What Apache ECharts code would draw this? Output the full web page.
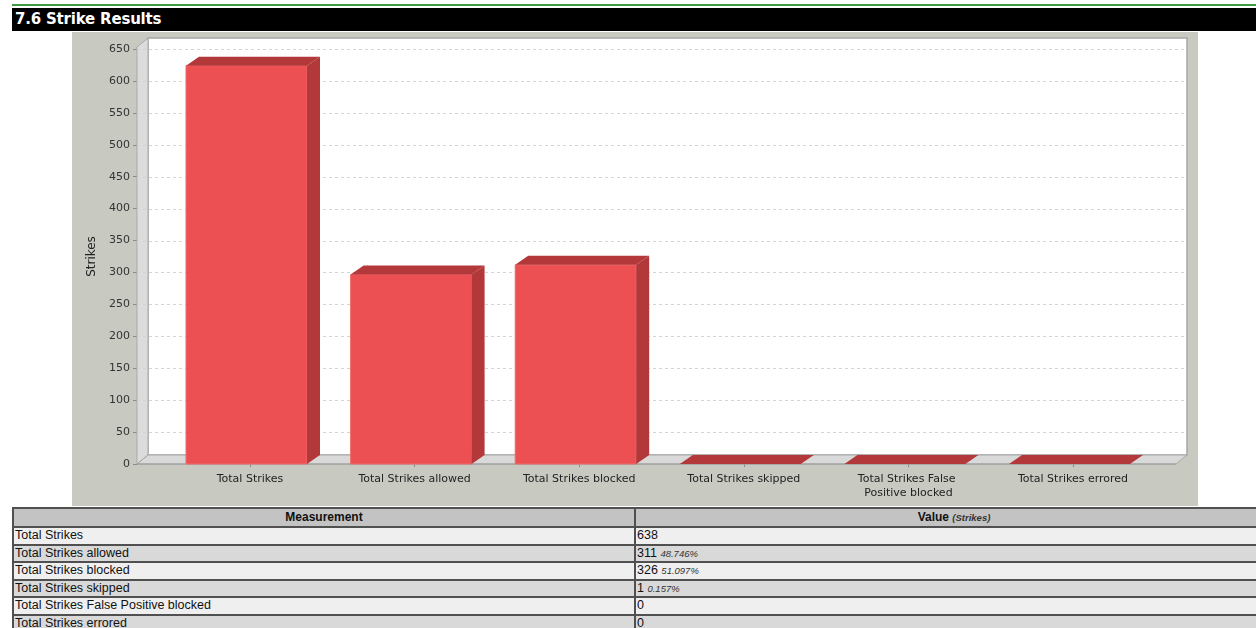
<!DOCTYPE html>
<html>
<head>
<meta charset="utf-8">
<title>7.6 Strike Results</title>
<script src="https://cdn.jsdelivr.net/npm/echarts@6/dist/echarts.min.js"></script>
<style>
  html, body { margin: 0; padding: 0; background: #ffffff; }
  body { width: 1256px; height: 628px; overflow: hidden; position: relative; }
  #rule { position: absolute; left: 12px; top: 4px; width: 1244px; height: 2px; background: #3f9a44; }
  #title {
    position: absolute; left: 12px; top: 8px; width: 1244px; height: 23px;
    background: #000000; color: #ffffff; font: bold 15px "DejaVu Sans", sans-serif;
    line-height: 23px; padding-left: 3px; box-sizing: border-box; letter-spacing: -0.2px;
  }
  #chart { position: absolute; left: 72px; top: 32px; width: 1126px; height: 474px; }
  #results {
    position: absolute; left: 12px; top: 507px; width: 1262px;
    border-collapse: collapse; font: 12.5px "Liberation Sans", Arial, sans-serif; color: #111;
  }
  #results th, #results td {
    border: 2px solid #505050; padding: 0 1px; height: 15.5px; line-height: 15.5px;
    text-align: left; box-sizing: content-box;
  }
  #results th { background: #c3c3c3; text-align: center; font-weight: bold; height: 17px; line-height: 17px; font-size: 12px; }
  #results td.name { width: 618px; }
  #results tr.light td { background: #efefef; }
  #results tr.dark td { background: #d9d9d9; }
  #results .unit, #results .pct { font-size: 9.5px; font-style: italic; color: #333; }
  #results .unit { font-weight: bold; }
</style>
</head>
<body>
<div id="rule"></div>
<div id="title">7.6 Strike Results</div>
<div id="chart"></div>
<table id="results"></table>
<script>
// Strike measurements
const categories = [
  'Total Strikes',
  'Total Strikes allowed',
  'Total Strikes blocked',
  'Total Strikes skipped',
  'Total Strikes False Positive blocked',
  'Total Strikes errored'
];
const strikes = [638, 311, 326, 1, 0, 0];
// rows that also show their share of the total
const showShare = [false, true, true, true, false, false];

// value axis range
const yMin = 0;
const yMax = 650;
const yStep = 50;

// pseudo-3D depth of the plot box and the bars
const DX = 11, DY = 9;
const BAR_DX = 13;
const INSET_L = 30.7;   // axis line sits left of the category band area
const INSET_R = 20.7;

const chart = echarts.init(document.getElementById('chart'), null, { renderer: 'canvas' });

function renderBox(params, api) {
  const cs = params.coordSys;
  const left = cs.x - INSET_L;
  const right = cs.x + cs.width + INSET_R;
  const y0 = api.coord([0, yMin])[1];
  const top = api.coord([0, yMax])[1] - 2;
  const edge = { stroke: '#a9a9a9', lineWidth: 1 };
  const children = [
    { type: 'rect', shape: { x: left + DX, y: top - DY, width: right - left, height: y0 - top },
      style: { fill: '#ffffff', stroke: '#a6a6a6', lineWidth: 1.5 } },
    { type: 'polygon', shape: { points: [[left, top], [left + DX, top - DY], [left + DX, y0 - DY], [left, y0]] },
      style: Object.assign({ fill: '#dcdcdc' }, edge) },
    { type: 'polygon', shape: { points: [[left, y0], [right, y0], [right + DX, y0 - DY], [left + DX, y0 - DY]] },
      style: Object.assign({ fill: '#d9d9d9' }, edge) }
  ];
  for (let v = yMin + yStep; v <= yMax; v += yStep) {
    const y = Math.round(api.coord([0, v])[1]) + 0.5;
    children.push({ type: 'line', shape: { x1: left, y1: y, x2: right + DX, y2: y },
      style: { stroke: '#d4d4d4', lineWidth: 1, lineDash: [3, 3] } });
  }
  children.push({ type: 'line', shape: { x1: left, y1: y0, x2: right, y2: y0 },
    style: { stroke: '#9a9a9a', lineWidth: 1 } });
  return { type: 'group', children: children };
}

function renderBar(params, api) {
  const i = api.value(0);
  const v = api.value(1);
  const base = api.coord([i, yMin]);
  const tip = api.coord([i, v]);
  const w = api.size([1, 0])[0] * 0.735;
  const cx = base[0] - 3.5;
  const y0 = base[1];
  const ft = Math.min(y0, tip[1] + DY);
  const xl = cx - w / 2, xr = cx + w / 2;
  const dark = '#b2383a';
  const children = [];
  if (y0 - ft > 0) {
    children.push({ type: 'rect', shape: { x: xl, y: ft, width: w, height: y0 - ft },
      style: { fill: '#ec5053', stroke: '#ef6a6b', lineWidth: 1 } });
    children.push({ type: 'polygon',
      shape: { points: [[xr, ft], [xr + BAR_DX, ft - DY], [xr + BAR_DX, y0 - DY], [xr, y0]] },
      style: { fill: dark } });
  }
  children.push({ type: 'polygon',
    shape: { points: [[xl, ft], [xr, ft], [xr + BAR_DX, ft - DY], [xl + BAR_DX, ft - DY]] },
    style: { fill: dark } });
  return { type: 'group', children: children };
}

chart.setOption({
  backgroundColor: '#c8cac2',
  animation: false,
  grid: { left: 95.7, width: 987.6, top: 17, height: 415 },
  xAxis: {
    type: 'category',
    data: categories,
    axisLine: { show: false },
    axisTick: { show: true, alignWithLabel: true, length: 3, lineStyle: { color: '#8a8a8a' } },
    axisLabel: {
      interval: 0, margin: 8, width: 130, overflow: 'break',
      fontFamily: 'DejaVu Sans', fontSize: 11, lineHeight: 14, color: '#222'
    },
    splitLine: { show: false }
  },
  yAxis: {
    type: 'value',
    min: yMin, max: yMax, interval: yStep,
    offset: INSET_L,
    name: 'Strikes',
    nameLocation: 'middle',
    nameGap: 38,
    nameTextStyle: { fontFamily: 'DejaVu Sans', fontSize: 12, color: '#222' },
    axisLine: { show: true, lineStyle: { color: '#8a8a8a' } },
    axisTick: { show: true, length: 4, lineStyle: { color: '#8a8a8a' } },
    axisLabel: { margin: 7, fontFamily: 'DejaVu Sans', fontSize: 11, color: '#333' },
    splitLine: { show: false }
  },
  series: [
    { type: 'custom', name: 'box', data: [[0, 0]], renderItem: renderBox, clip: false, silent: true, z: 1 },
    { type: 'custom', name: 'Strikes', data: strikes.map((v, i) => [i, v]),
      encode: { x: 0, y: 1 }, renderItem: renderBar, clip: false, z: 2 }
  ]
});

// measurement table
const total = strikes[0];
const table = document.getElementById('results');
let html = '<tr><th>Measurement</th><th>Value <span class="unit">(Strikes)</span></th></tr>';
categories.forEach((name, i) => {
  const share = showShare[i] ? ' <span class="pct">' + (strikes[i] / total * 100).toFixed(3) + '%</span>' : '';
  html += '<tr class="' + (i % 2 === 0 ? 'light' : 'dark') + '"><td class="name">' + name +
          '</td><td>' + strikes[i] + share + '</td></tr>';
});
table.innerHTML = html;
</script>
</body>
</html>
